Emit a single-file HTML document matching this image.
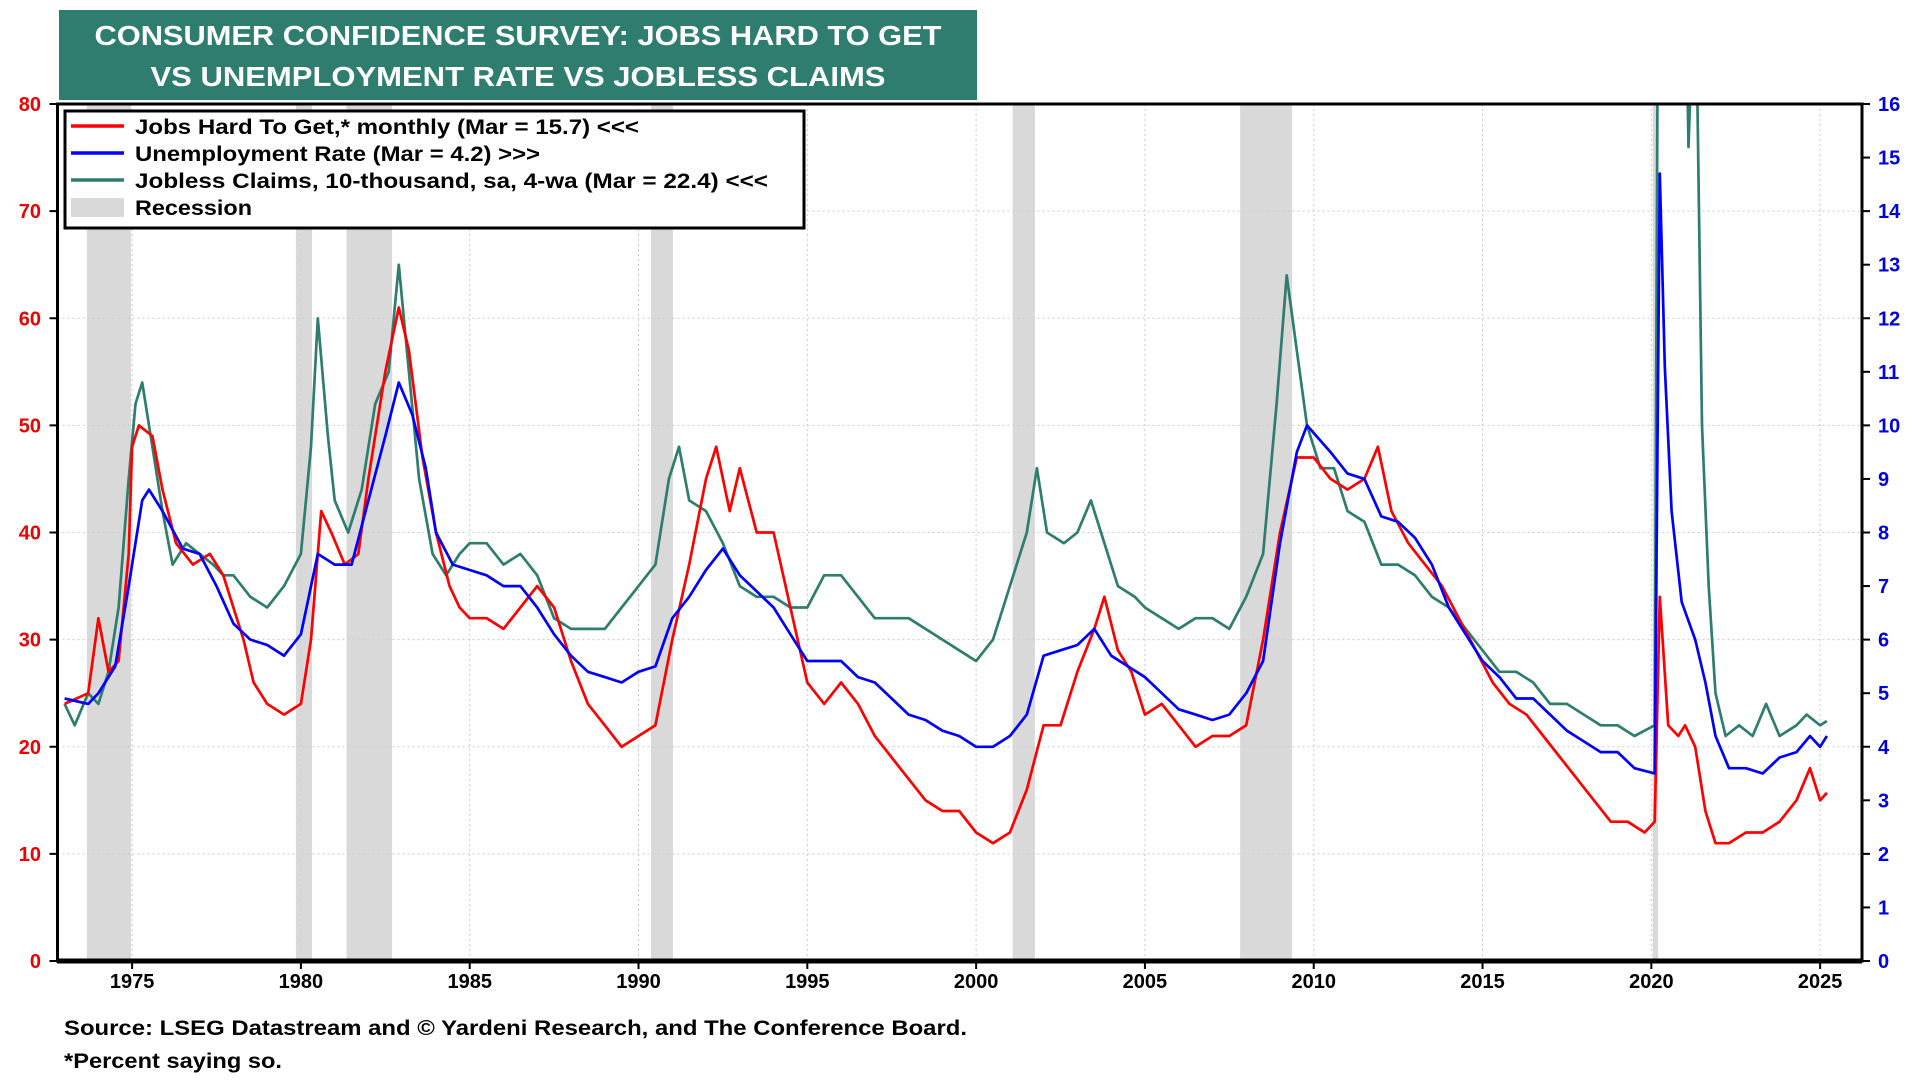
<!DOCTYPE html>
<html><head><meta charset="utf-8"><style>
html,body{margin:0;padding:0;background:#fff;}
svg{display:block;font-family:"Liberation Sans",Arial,sans-serif;font-weight:bold;}
</style></head><body>
<svg id="chart" width="1920" height="1080" viewBox="0 0 1920 1080" xmlns="http://www.w3.org/2000/svg">
<rect x="59" y="10" width="918" height="90" fill="#2e7d6e"/>
<text x="518" y="45" text-anchor="middle" fill="#fff" font-size="28" textLength="847" lengthAdjust="spacingAndGlyphs">CONSUMER CONFIDENCE SURVEY: JOBS HARD TO GET</text>
<text x="518" y="86" text-anchor="middle" fill="#fff" font-size="28" textLength="735" lengthAdjust="spacingAndGlyphs">VS UNEMPLOYMENT RATE VS JOBLESS CLAIMS</text>
<g id="recessions"></g>
<g id="grid"></g>
<g id="series"></g>
<rect x="57.5" y="104" width="1804.5" height="857" fill="none" stroke="#000" stroke-width="3"/>
<line x1="57" y1="961" x2="1862" y2="961" stroke="#000" stroke-width="5"/>
<g id="axes"></g>
<g>
<rect x="65" y="111" width="739" height="117" fill="#fff" stroke="#000" stroke-width="3"/>
<line x1="71" y1="126" x2="124" y2="126" stroke="#f00" stroke-width="3.5"/>
<text x="135" y="134" font-size="21" textLength="504" lengthAdjust="spacingAndGlyphs">Jobs Hard To Get,* monthly (Mar = 15.7) &lt;&lt;&lt;</text>
<line x1="71" y1="153" x2="124" y2="153" stroke="#00f" stroke-width="3.5"/>
<text x="135" y="161" font-size="21" textLength="405" lengthAdjust="spacingAndGlyphs">Unemployment Rate (Mar = 4.2) &gt;&gt;&gt;</text>
<line x1="71" y1="180" x2="124" y2="180" stroke="#2e7d6e" stroke-width="3.5"/>
<text x="135" y="188" font-size="21" textLength="633" lengthAdjust="spacingAndGlyphs">Jobless Claims, 10-thousand, sa, 4-wa  (Mar = 22.4) &lt;&lt;&lt;</text>
<rect x="71" y="198" width="53" height="19" fill="#d9d9d9"/>
<text x="135" y="215" font-size="21" textLength="117" lengthAdjust="spacingAndGlyphs">Recession</text>
</g>
<text x="64" y="1035" font-size="21" textLength="903" lengthAdjust="spacingAndGlyphs">Source: LSEG Datastream and © Yardeni Research, and The Conference Board.</text>
<text x="64" y="1068" font-size="21" textLength="218" lengthAdjust="spacingAndGlyphs">*Percent saying so.</text>
</svg>
<script>
const recStart=[1973.66,1979.85,1981.35,1990.37,2001.08,2007.82,2020.04];
const recEnd=[1974.97,1980.33,1982.7,1991.02,2001.74,2009.36,2020.2];
const yearTicks=[1975,1980,1985,1990,1995,2000,2005,2010,2015,2020,2025];
const leftTicks=[0,10,20,30,40,50,60,70,80];
const rightTicks=[0,1,2,3,4,5,6,7,8,9,10,11,12,13,14,15,16];
const jobsT=[1973.0,1973.7,1974.0,1974.3,1974.6,1974.9,1975.0,1975.2,1975.6,1975.9,1976.3,1976.8,1977.3,1977.7,1978.0,1978.3,1978.6,1979.0,1979.5,1980.0,1980.3,1980.6,1980.9,1981.3,1981.7,1982.0,1982.5,1982.9,1983.2,1983.6,1984.0,1984.4,1984.7,1985.0,1985.5,1986.0,1986.5,1987.0,1987.5,1988.0,1988.5,1989.0,1989.5,1990.0,1990.5,1991.0,1991.5,1992.0,1992.3,1992.7,1993.0,1993.5,1994.0,1994.5,1995.0,1995.5,1996.0,1996.5,1997.0,1997.5,1998.0,1998.5,1999.0,1999.5,2000.0,2000.5,2001.0,2001.5,2002.0,2002.5,2003.0,2003.5,2003.8,2004.2,2004.6,2005.0,2005.5,2006.0,2006.5,2007.0,2007.5,2008.0,2008.5,2009.0,2009.5,2010.0,2010.5,2011.0,2011.5,2011.9,2012.3,2012.8,2013.3,2013.8,2014.3,2014.8,2015.3,2015.8,2016.3,2016.8,2017.3,2017.8,2018.3,2018.8,2019.3,2019.8,2020.1,2020.25,2020.5,2020.8,2021.0,2021.3,2021.6,2021.9,2022.3,2022.8,2023.3,2023.8,2024.3,2024.7,2025.0,2025.2];
const jobsV=[24,25,32,27,28,38,48,50,49,44,39,37,38,36,33,30,26,24,23,24,30,42,40,37,38,45,55,61,57,47,40,35,33,32,32,31,33,35,33,28,24,22,20,21,22,30,37,45,48,42,46,40,40,33,26,24,26,24,21,19,17,15,14,14,12,11,12,16,22,22,27,31,34,29,27,23,24,22,20,21,21,22,30,40,47,47,45,44,45,48,42,39,37,35,32,29,26,24,23,21,19,17,15,13,13,12,13,34,22,21,22,20,14,11,11,12,12,13,15,18,15,15.7];
const unT=[1973.0,1973.7,1974.0,1974.5,1974.9,1975.3,1975.5,1975.9,1976.5,1977.0,1977.5,1978.0,1978.5,1979.0,1979.5,1980.0,1980.5,1981.0,1981.5,1982.0,1982.5,1982.9,1983.3,1983.7,1984.0,1984.5,1985.0,1985.5,1986.0,1986.5,1987.0,1987.5,1988.0,1988.5,1989.0,1989.5,1990.0,1990.5,1991.0,1991.5,1992.0,1992.5,1993.0,1993.5,1994.0,1994.5,1995.0,1995.5,1996.0,1996.5,1997.0,1997.5,1998.0,1998.5,1999.0,1999.5,2000.0,2000.5,2001.0,2001.5,2002.0,2002.5,2003.0,2003.5,2004.0,2004.5,2005.0,2005.5,2006.0,2006.5,2007.0,2007.5,2008.0,2008.5,2009.0,2009.5,2009.8,2010.5,2011.0,2011.5,2012.0,2012.5,2013.0,2013.5,2014.0,2014.5,2015.0,2015.5,2016.0,2016.5,2017.0,2017.5,2018.0,2018.5,2019.0,2019.5,2020.1,2020.25,2020.4,2020.6,2020.9,2021.3,2021.6,2021.9,2022.3,2022.8,2023.3,2023.8,2024.3,2024.7,2025.0,2025.2];
const unV=[4.9,4.8,5.0,5.5,7.0,8.6,8.8,8.4,7.7,7.6,7.0,6.3,6.0,5.9,5.7,6.1,7.6,7.4,7.4,8.6,9.8,10.8,10.2,9.2,8.0,7.4,7.3,7.2,7.0,7.0,6.6,6.1,5.7,5.4,5.3,5.2,5.4,5.5,6.4,6.8,7.3,7.7,7.2,6.9,6.6,6.1,5.6,5.6,5.6,5.3,5.2,4.9,4.6,4.5,4.3,4.2,4.0,4.0,4.2,4.6,5.7,5.8,5.9,6.2,5.7,5.5,5.3,5.0,4.7,4.6,4.5,4.6,5.0,5.6,7.8,9.5,10.0,9.5,9.1,9.0,8.3,8.2,7.9,7.4,6.6,6.1,5.6,5.3,4.9,4.9,4.6,4.3,4.1,3.9,3.9,3.6,3.5,14.7,11.1,8.4,6.7,6.0,5.2,4.2,3.6,3.6,3.5,3.8,3.9,4.2,4.0,4.2];
const clT=[1973.0,1973.3,1973.7,1974.0,1974.3,1974.6,1974.9,1975.1,1975.3,1975.6,1975.9,1976.2,1976.6,1977.0,1977.4,1977.7,1978.0,1978.5,1979.0,1979.5,1980.0,1980.3,1980.5,1980.8,1981.0,1981.4,1981.8,1982.2,1982.6,1982.9,1983.2,1983.5,1983.9,1984.3,1984.7,1985.0,1985.5,1986.0,1986.5,1987.0,1987.5,1988.0,1988.5,1989.0,1989.5,1990.0,1990.5,1990.9,1991.2,1991.5,1992.0,1992.5,1993.0,1993.5,1994.0,1994.5,1995.0,1995.5,1996.0,1996.5,1997.0,1997.5,1998.0,1998.5,1999.0,1999.5,2000.0,2000.5,2001.0,2001.5,2001.8,2002.1,2002.6,2003.0,2003.4,2003.8,2004.2,2004.7,2005.0,2005.5,2006.0,2006.5,2007.0,2007.5,2008.0,2008.5,2008.9,2009.2,2009.5,2009.8,2010.2,2010.6,2011.0,2011.5,2012.0,2012.5,2013.0,2013.5,2014.0,2014.5,2015.0,2015.5,2016.0,2016.5,2017.0,2017.5,2018.0,2018.5,2019.0,2019.5,2020.1,2020.2,2021.0,2021.1,2021.3,2021.5,2021.7,2021.9,2022.2,2022.6,2023.0,2023.4,2023.8,2024.3,2024.6,2025.0,2025.2];
const clV=[24,22,25,24,27,33,45,52,54,48,42,37,39,38,37,36,36,34,33,35,38,48,60,49,43,40,44,52,55,65,55,45,38,36,38,39,39,37,38,36,32,31,31,31,33,35,37,45,48,43,42,39,35,34,34,33,33,36,36,34,32,32,32,31,30,29,28,30,35,40,46,40,39,40,43,39,35,34,33,32,31,32,32,31,34,38,52,64,57,50,46,46,42,41,37,37,36,34,33,31,29,27,27,26,24,24,23,22,22,21,22,95,95,76,95,50,35,25,21,22,21,24,21,22,23,22,22.4];

const NS='http://www.w3.org/2000/svg';
const L=57.5,R=1862,T=104,B=961,Y0=1972.79,Y1=2026.24;
const xS=y=>L+(y-Y0)/(Y1-Y0)*(R-L);
const yL=v=>B-v/80*(B-T);
const yR=v=>B-v/16*(B-T);
function mk(tag,attrs,parent){const e=document.createElementNS(NS,tag);for(const k in attrs)e.setAttribute(k,attrs[k]);parent.appendChild(e);return e;}
const rec=document.getElementById('recessions'),grid=document.getElementById('grid'),ser=document.getElementById('series'),ax=document.getElementById('axes');
recStart.forEach((s,i)=>{const r=mk('rect',{x:xS(s),y:T,width:Math.max(4,xS(recEnd[i])-xS(s)),height:B-T,fill:'#d9d9d9'},rec);

});
yearTicks.forEach(y=>{const x=xS(y);
const g=mk('line',{x1:x,y1:T,x2:x,y2:B,stroke:'#ccc','stroke-dasharray':'2,3','stroke-width':1},grid);


const t=mk('line',{x1:x,y1:B,x2:x,y2:B+8,stroke:'#000','stroke-width':2},ax);


const l=mk('text',{x:x,y:988,'text-anchor':'middle','font-size':20},ax);l.textContent=y;

});
leftTicks.forEach(v=>{const y=yL(v);
if(v>0&&v<80){const g=mk('line',{x1:L,y1:y,x2:R,y2:y,stroke:'#ccc','stroke-dasharray':'2,3','stroke-width':1},grid);

}
const t=mk('line',{x1:L-8,y1:y,x2:L,y2:y,stroke:'#000','stroke-width':2},ax);


const l=mk('text',{x:41,y:y+7,'text-anchor':'end','font-size':20,fill:'#e00'},ax);l.textContent=v;

});
rightTicks.forEach(v=>{const y=yR(v);
const t=mk('line',{x1:R,y1:y,x2:R+8,y2:y,stroke:'#000','stroke-width':2},ax);


const l=mk('text',{x:1878,y:y+7,'text-anchor':'start','font-size':20,fill:'#00d'},ax);l.textContent=v;

});
const clip=mk('clipPath',{id:'pc'},document.getElementById('chart'));mk('rect',{x:L,y:T,width:R-L,height:B-T},clip);
function line(ts,vs,sc,color,name){const d=ts.map((t,i)=>(i?'L':'M')+xS(t).toFixed(1)+','+sc(vs[i]).toFixed(1)).join('');
const p=mk('path',{d:d,fill:'none',stroke:color,'stroke-width':2.7,'stroke-linejoin':'round','clip-path':'url(#pc)'},ser);

}
line(clT,clV,yL,'#2e7d6e','jobless-claims-line');
line(jobsT,jobsV,yL,'#f00','jobs-hard-to-get-line');
line(unT,unV,yR,'#00f','unemployment-rate-line');
</script>
</body></html>
